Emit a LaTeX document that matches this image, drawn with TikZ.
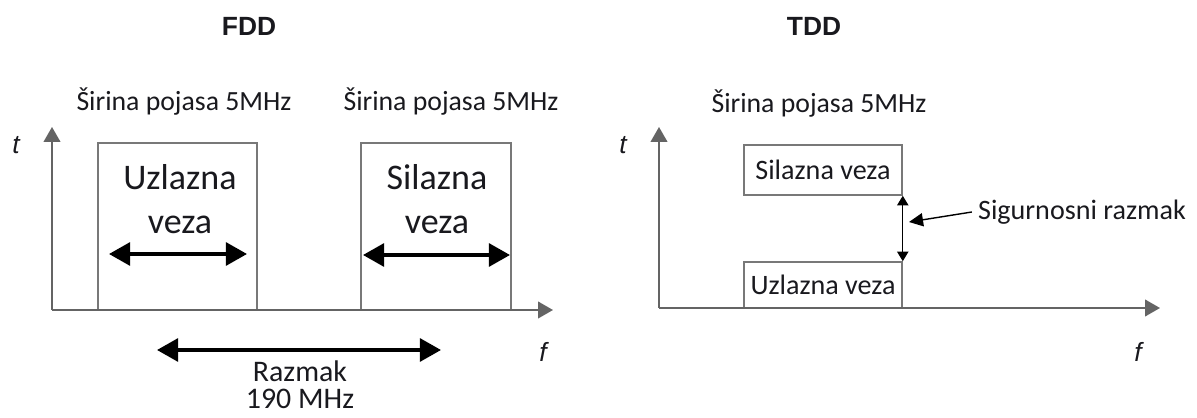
\documentclass[tikz,border=0pt]{standalone}
\usepackage{fontspec}
\setmainfont{Carlito}
\newfontfamily\headfont{Liberation Sans}
\usetikzlibrary{arrows.meta}

\definecolor{axisgray}{RGB}{100,100,100}
\definecolor{boxgray}{RGB}{120,120,120}
\definecolor{ink}{RGB}{25,25,30}

\begin{document}
\begin{tikzpicture}[x=0.02cm,y=-0.02cm,
    axis/.style={draw=axisgray,line width=1pt,-{Triangle[length=8.5pt,width=9.5pt]}},
    band/.style={draw=boxgray,line width=0.9pt,inner sep=0pt},
    bigarrow/.style={line width=2pt,{Triangle[length=12pt,width=13pt]}-{Triangle[length=12pt,width=13pt]}},
    gaparrow/.style={line width=0.6pt,{Triangle[length=5.5pt,width=6.5pt]}-{Triangle[length=5.5pt,width=6.5pt]}},
    pointer/.style={line width=0.8pt,-{Triangle[length=8pt,width=7.5pt]}},
    title/.style={font=\headfont\bfseries\fontsize{15}{18}\selectfont,text=ink},
    lbl/.style={font=\fontsize{15.8}{18}\selectfont,text=ink},
    big/.style={font=\fontsize{20.5}{25}\selectfont,text=ink,align=center},
    var/.style={font=\headfont\itshape\fontsize{15}{18}\selectfont,text=ink}]
  \useasboundingbox (0,0) rectangle (1197,418);

% FDD
  \node[title] (fdd) at (249,26) {FDD};
  \coordinate (o1) at (52,310);
  \coordinate (t1) at (52,127);
  \coordinate (f1) at (553,310);
  \node[var] (t1lbl) at (16,145) {t};
  \node[var] (f1lbl) at (543,352) {f};
  \node[band,minimum width=3.18cm,minimum height=3.34cm] (up) at (177.5,226.5) {};
  \node[band,minimum width=3.0cm,minimum height=3.34cm] (down) at (436,226.5) {};
  \path (o1) edge[axis] (t1) edge[axis] (f1);
  \node[lbl] (bw1) at (184,102) {Širina pojasa 5MHz};
  \node[lbl] (bw2) at (451,102) {Širina pojasa 5MHz};
  \node[big] (uptxt) at (180,199) {Uzlazna\\veza};
  \node[big] (downtxt) at (437,199) {Silazna\\veza};
  \coordinate (up1) at (109,254);
  \coordinate (up2) at (247,254);
  \coordinate (down1) at (363,255);
  \coordinate (down2) at (510,255);
  \coordinate (sp1) at (157,350);
  \coordinate (sp2) at (441,350);
  \path (up1) edge[bigarrow] (up2)
        (down1) edge[bigarrow] (down2)
        (sp1) edge[bigarrow] (sp2);
  \node[font=\fontsize{17}{15.5}\selectfont,text=ink,align=center,inner sep=0pt] (spacing) at (300,385) {Razmak\\190 MHz};

% TDD
  \node[title] (tdd) at (814,26) {TDD};
  \coordinate (o2) at (659,308);
  \coordinate (t2) at (659,127);
  \coordinate (f2) at (1160,308);
  \node[var] (t2lbl) at (623,145) {t};
  \node[var] (f2lbl) at (1138,352) {f};
  \node[band,minimum width=3.16cm,minimum height=1.0cm,font=\fontsize{16}{19}\selectfont,text=ink] (dl) at (823,170) {Silazna veza};
  \node[band,minimum width=3.16cm,minimum height=0.92cm,font=\fontsize{16}{19}\selectfont,text=ink] (ul) at (823,285) {Uzlazna veza};
  \path (o2) edge[axis] (t2) edge[axis] (f2);
  \node[lbl] (bw3) at (819,104) {Širina pojasa 5MHz};
  \node[font=\fontsize{16}{19}\selectfont,text=ink] (guard) at (1082,212) {Sigurnosni razmak};
  \coordinate (gaptip) at (909,222);
  \path (dl.south east) edge[gaparrow] (ul.north east);
  \path (guard.west) edge[pointer] (gaptip);
\end{tikzpicture}
\end{document}
